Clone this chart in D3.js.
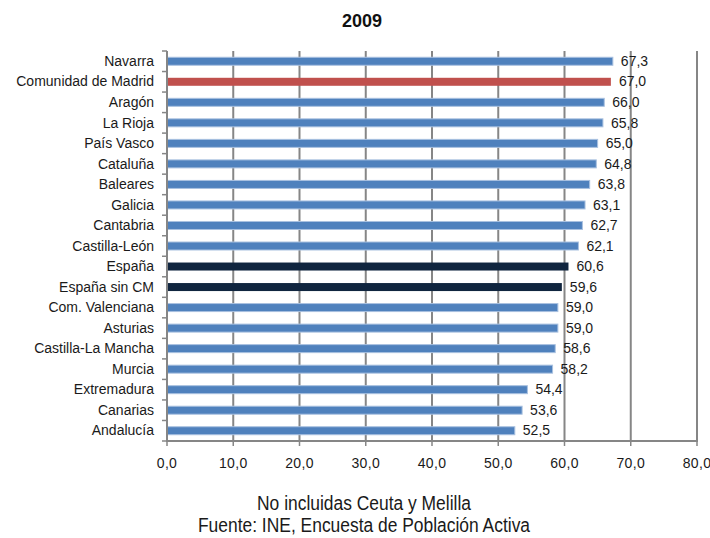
<!DOCTYPE html>
<html><head><meta charset="utf-8">
<script src="https://cdn.jsdelivr.net/npm/d3@7"></script>
<style>body{margin:0;background:#fff;} svg{display:block;}</style>
</head><body>
<script>
const categories = ["Navarra","Comunidad de Madrid","Aragón","La Rioja","País Vasco","Cataluña","Baleares","Galicia","Cantabria","Castilla-León","España","España sin CM","Com. Valenciana","Asturias","Castilla-La Mancha","Murcia","Extremadura","Canarias","Andalucía"];
const values = [67.3,67.0,66.0,65.8,65.0,64.8,63.8,63.1,62.7,62.1,60.6,59.6,59.0,59.0,58.6,58.2,54.4,53.6,52.5];
const highlight = {"Comunidad de Madrid":"madrid","España":"spain","España sin CM":"spain"};
const xTicks = [0,10,20,30,40,50,60,70,80];
const title = "2009";
const footer = ["No incluidas Ceuta y Melilla","Fuente: INE, Encuesta de Población Activa"];

const W=710,H=538;
const m={left:167,right:13,top:51,bottom:97};
const svg=d3.select("body").append("svg").attr("width",W).attr("height",H);
const x=d3.scaleLinear().domain([0,80]).range([m.left,697]);
const yB=d3.scaleBand().domain(categories).range([m.top,441]);
const fmt=v=>d3.format(".1f")(v).replace(".",",");
const grey="#868686";
const colors={madrid:"#c0504d",spain:"#10253f",def:"#4f81bd"};

// gridlines
svg.append("g").selectAll("line").data(xTicks.slice(1)).join("line")
  .attr("x1",d=>x(d)).attr("x2",d=>x(d)).attr("y1",m.top).attr("y2",441)
  .attr("stroke",grey).attr("stroke-width",2);

// bars
svg.append("g").selectAll("rect").data(categories).join("rect")
  .attr("x",x(0)).attr("y",d=>yB(d)+(yB.bandwidth()-8)/2)
  .attr("width",(d,i)=>x(values[i])-x(0)).attr("height",8)
  .attr("fill",d=>colors[highlight[d]||"def"])
  .attr("stroke",d=>highlight[d]? "none":"#a9c1e0").attr("stroke-width",1);

// value labels
svg.append("g").selectAll("text").data(categories).join("text")
  .attr("x",(d,i)=>x(values[i])+8).attr("y",d=>yB(d)+yB.bandwidth()/2+1)
  .attr("dominant-baseline","middle")
  .attr("font-family","Liberation Sans, Arial, sans-serif").attr("font-size",14).attr("fill","#1a1a1a")
  .text((d,i)=>fmt(values[i]));

// left axis
const gy=svg.append("g");
gy.append("line").attr("x1",x(0)).attr("x2",x(0)).attr("y1",m.top).attr("y2",442).attr("stroke",grey).attr("stroke-width",2);
gy.selectAll("line.t").data(d3.range(categories.length+1)).join("line").attr("class","t")
  .attr("x1",x(0)-5).attr("x2",x(0)).attr("y1",i=>i<categories.length? yB(categories[i]):441).attr("y2",i=>i<categories.length? yB(categories[i]):441)
  .attr("stroke",grey).attr("stroke-width",1.5);
gy.selectAll("text").data(categories).join("text")
  .attr("x",154).attr("y",d=>yB(d)+yB.bandwidth()/2+1).attr("dominant-baseline","middle")
  .attr("text-anchor","end").attr("font-family","Liberation Sans, Arial, sans-serif").attr("font-size",14).attr("fill","#1a1a1a")
  .text(d=>d);

// bottom axis
const gx=svg.append("g");
gx.append("line").attr("x1",x(0)-1).attr("x2",x(80)+1).attr("y1",441).attr("y2",441).attr("stroke",grey).attr("stroke-width",2);
gx.selectAll("line.t").data(xTicks).join("line").attr("class","t")
  .attr("x1",d=>x(d)).attr("x2",d=>x(d)).attr("y1",441).attr("y2",446).attr("stroke",grey).attr("stroke-width",1.5);
gx.selectAll("text").data(xTicks).join("text")
  .attr("x",d=>x(d)).attr("y",468).attr("text-anchor","middle")
  .attr("font-family","Liberation Sans, Arial, sans-serif").attr("font-size",14).attr("letter-spacing","0.3").attr("fill","#1a1a1a")
  .text(d=>fmt(d));

// title
svg.append("text").attr("x",362).attr("y",27).attr("text-anchor","middle")
  .attr("font-family","Liberation Sans, Arial, sans-serif").attr("font-weight","bold").attr("font-size",18).attr("fill","#111")
  .text(title);

// footer (condensed via horizontal scale)
svg.append("g").attr("transform","translate(364,0) scale(0.83,1)")
  .selectAll("text").data(footer).join("text")
  .attr("x",0).attr("y",(d,i)=>510+i*22).attr("text-anchor","middle")
  .attr("font-family","Liberation Sans, Arial, sans-serif").attr("font-size",21).attr("fill","#1a1a1a")
  .text(d=>d);
</script>
</body></html>
